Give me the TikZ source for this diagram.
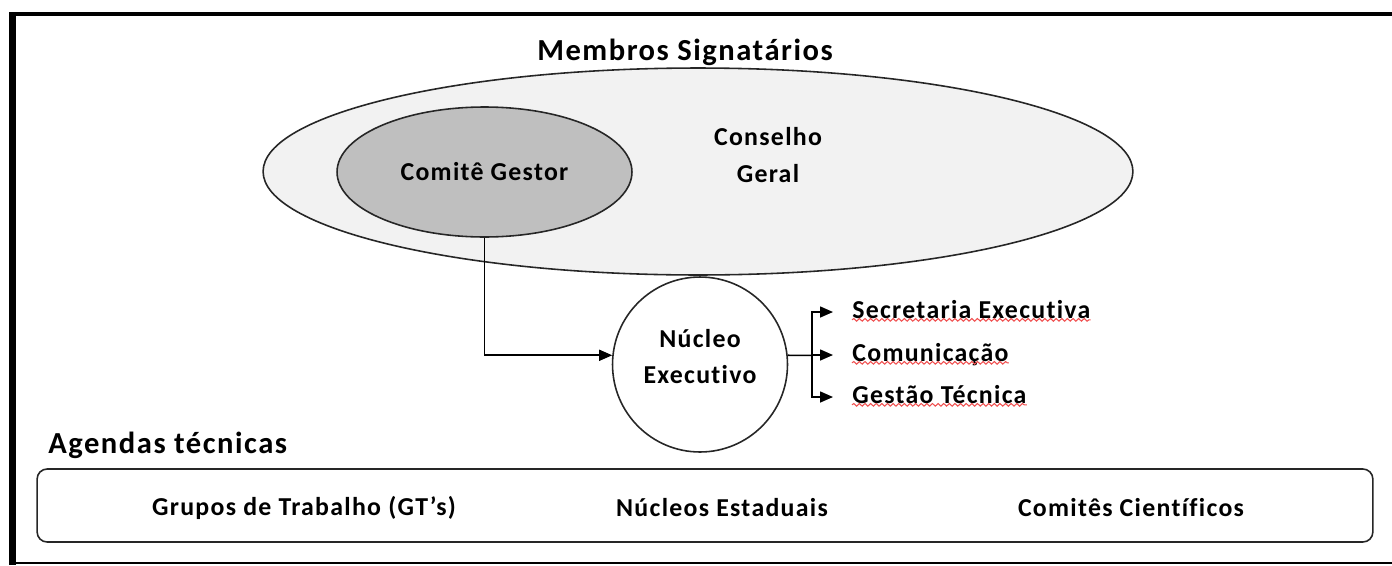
\documentclass[tikz,border=0pt]{standalone}
\usepackage{fontspec}
\setmainfont{Carlito}[LetterSpace=5, Ligatures=NoCommon]
\usetikzlibrary{shapes.geometric,arrows.meta,decorations.pathmorphing}
\definecolor{outerfill}{HTML}{F2F2F2}
\definecolor{innerfill}{HTML}{BFBFBF}
\definecolor{spellred}{HTML}{F05050}
\begin{document}
\begin{tikzpicture}[x=0.02cm,y=-0.02cm,
  shp/.style={draw=black!85, line width=0.9pt},
  arr/.style={line width=0.9pt, -{Triangle[length=0.26cm,width=0.22cm]}},
  ln/.style={line width=0.9pt},
  lbl/.style={font=\fontsize{14.7}{21}\selectfont\bfseries, inner sep=0pt},
  big/.style={font=\fontsize{17.4}{21}\selectfont\bfseries, inner sep=0pt},
  item/.style={lbl, anchor=west, text height=0.34cm, text depth=0.1cm},
  spell/.style={draw=spellred, line width=0.6pt, decorate, decoration={snake, amplitude=0.75pt, segment length=3.2pt}}
]
\useasboundingbox (0,0) rectangle (1392,565);
\fill[white] (0,0) rectangle (1392,565);
% frame
\draw[line width=0.08cm] (9,14) -- (1392,14);
\draw[line width=0.14cm] (12.5,12) -- (12.5,565);
\draw[line width=0.04cm] (9,563) -- (1392,563);

% title
\node[big] (ms) at (685,52) {Membros Signatários};

% ellipses
\node[shp, ellipse, fill=outerfill, minimum width=17.4cm, minimum height=4.14cm, inner sep=0pt] (cg) at (698,171.5) {};
\node[lbl, align=center] (cgt) at (768,155) {Conselho\\Geral};
\node[shp, ellipse, fill=innerfill, minimum width=5.9cm, minimum height=2.6cm, lbl] (gest) at (484.5,172) {Comitê Gestor};

% nucleo
\node[shp, circle, fill=white, minimum size=3.5cm, inner sep=0pt] (nuc) at (700,364.5) {};
\node[lbl, align=center] (nuct) at (700,356.5) {Núcleo\\Executivo};

\draw[arr] (gest.south) |- (nuc.174);

% branches
\node[item] (sec) at (852,312) {Secretaria Executiva};
\node[item] (com) at (852,355) {Comunicação};
\node[item] (gtec) at (852,397) {Gestão Técnica};
\coordinate (br) at (812,355.4);
\draw[ln] (nuc.6) -- (br);
\draw[arr, shorten >=0.38cm] (br) |- (sec.west);
\draw[arr, shorten >=0.38cm] (br) |- (com.west);
\draw[arr, shorten >=0.38cm] (br) |- (gtec.west);
\draw[spell] ([yshift=2pt]sec.south west) -- ([yshift=2pt]sec.south east);
\draw[spell] ([yshift=2pt]com.south west) -- ([yshift=2pt]com.south east);
\draw[spell] ([yshift=2pt]gtec.south west) -- ([yshift=2pt]gtec.south east);

% agendas
\node[big, anchor=west] (agt) at (48,445) {Agendas técnicas};
\node[shp, rounded corners=0.2cm, minimum width=26.72cm, minimum height=1.46cm, inner sep=0pt] (ag) at (705,505.5) {};
\node[lbl] (gt) at (304,508) {Grupos de Trabalho (GT’s)};
\node[lbl] (ne) at (722,508) {Núcleos Estaduais};
\node[lbl] (cc) at (1131,508) {Comitês Científicos};
\end{tikzpicture}
\end{document}
